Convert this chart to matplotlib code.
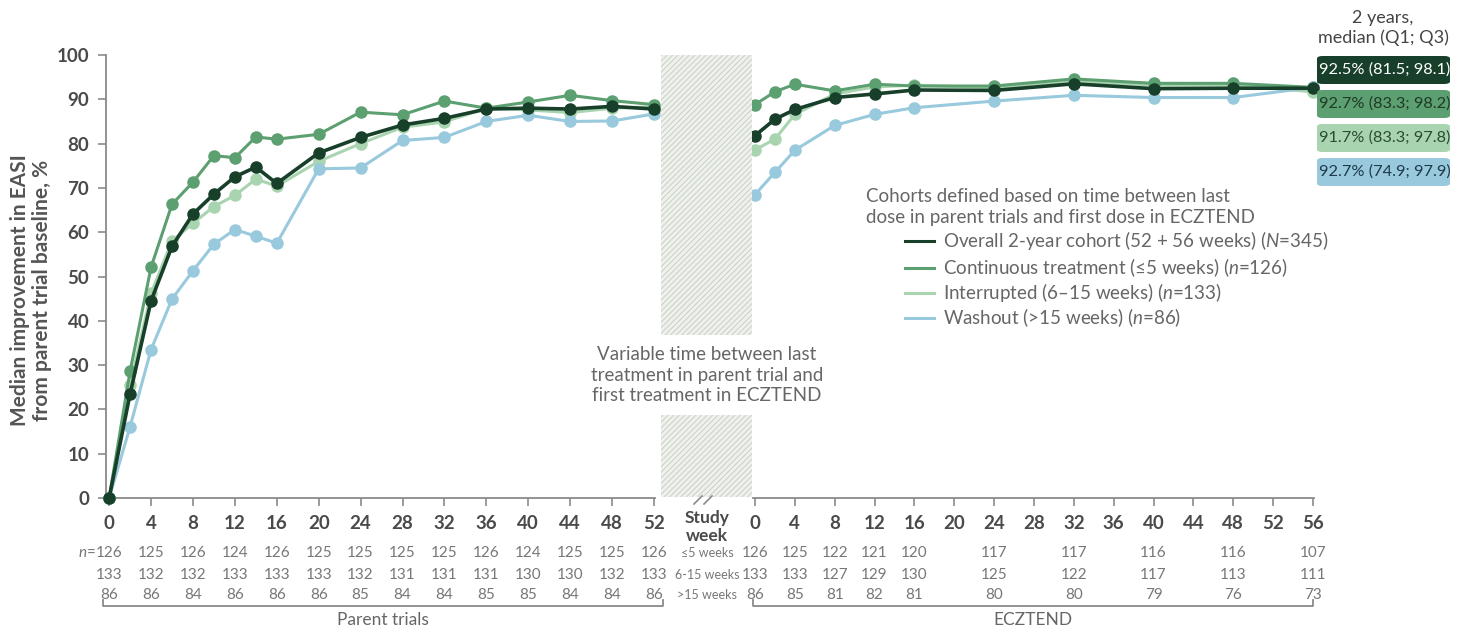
import numpy as np
import matplotlib
matplotlib.use('Agg')
import matplotlib.pyplot as plt
from matplotlib.patches import Rectangle, FancyBboxPatch
from matplotlib.lines import Line2D

plt.rcParams['font.family'] = ['Lato', 'DejaVu Sans']
plt.rcParams['mathtext.fontset'] = 'custom'
plt.rcParams['mathtext.it'] = 'Lato:italic'
plt.rcParams['mathtext.rm'] = 'Lato'
plt.rcParams['hatch.linewidth'] = 0.6

# ---- data ----
weeks_parent = [0, 2, 4, 6, 8, 10, 12, 14, 16, 20, 24, 28, 32, 36, 40, 44, 48, 52]
overall_parent = [0, 23.5, 44.5, 56.8, 64.1, 68.6, 72.5, 74.7, 71.0, 77.9, 81.4, 84.2, 85.7, 87.8, 88.0, 87.8, 88.4, 87.8]
contin_parent = [0, 28.6, 52.1, 66.3, 71.3, 77.3, 76.8, 81.5, 81.0, 82.1, 87.1, 86.5, 89.6, 88.0, 89.4, 90.9, 89.7, 88.8]
interr_parent = [0, 25.5, 46.2, 58.0, 62.0, 65.8, 68.3, 72.0, 70.4, 76.0, 80.0, 83.7, 84.9, 88.0, 87.6, 87.0, 88.0, 88.3]
washout_parent = [0, 16.1, 33.5, 44.9, 51.3, 57.3, 60.6, 59.1, 57.5, 74.3, 74.5, 80.7, 81.4, 85.0, 86.4, 85.0, 85.1, 86.7]

weeks_ext = [0, 2, 4, 8, 12, 16, 24, 32, 40, 48, 56]
overall_ext = [81.8, 85.5, 87.7, 90.4, 91.2, 92.1, 92.0, 93.5, 92.4, 92.5, 92.5]
contin_ext = [88.8, 91.7, 93.4, 91.9, 93.4, 93.0, 93.0, 94.6, 93.6, 93.6, 92.7]
interr_ext = [78.6, 81.0, 86.6, 91.2, 92.8, 93.2, 92.6, 94.0, 93.2, 93.2, 91.7]
washout_ext = [68.5, 73.5, 78.5, 84.1, 86.6, 88.1, 89.6, 90.9, 90.4, 90.4, 92.7]

ticks_parent = list(range(0, 53, 4))
ticks_ext = list(range(0, 57, 4))

n_cont_parent = [126, 125, 126, 124, 126, 125, 125, 125, 125, 126, 124, 125, 125, 126]
n_int_parent = [133, 132, 132, 133, 133, 133, 132, 131, 131, 131, 130, 130, 132, 133]
n_wash_parent = [86, 86, 84, 86, 86, 86, 85, 84, 84, 85, 85, 84, 84, 86]

n_weeks_ext = [0, 4, 8, 12, 16, 24, 32, 40, 48, 56]
n_cont_ext = [126, 125, 122, 121, 120, 117, 117, 116, 116, 107]
n_int_ext = [133, 133, 127, 129, 130, 125, 122, 117, 113, 111]
n_wash_ext = [86, 85, 81, 82, 81, 80, 80, 79, 76, 73]

row_labels = ['≤5 weeks', '6-15 weeks', '>15 weeks']

labels = ['Overall 2-year cohort (52 + 56 weeks) ($\\mathit{N}$=345)',
          'Continuous treatment (≤5 weeks) ($\\mathit{n}$=126)',
          'Interrupted (6\u201315 weeks) ($\\mathit{n}$=133)',
          'Washout (>15 weeks) ($\\mathit{n}$=86)']
summary = ['92.5% (81.5; 98.1)', '92.7% (83.3; 98.2)', '91.7% (83.3; 97.8)', '92.7% (74.9; 97.9)']

colors = ['#173f2a', '#5c9f70', '#a9d4b0', '#98c9dc']
text_cols = ['white', '#1f3a28', '#2c4a34', '#1f3a4a']
zorders = [5, 3, 2, 4]

W, H = 1459, 631
fig = plt.figure(figsize=(W / 100, H / 100), dpi=100)

def px_rect(x0, x1, ytop, ybot):
    return [x0 / W, 1 - ybot / H, (x1 - x0) / W, (ybot - ytop) / H]

ax1 = fig.add_axes(px_rect(106, 655, 55, 498))
ax2 = fig.add_axes(px_rect(753, 1314, 55, 498))
ax1.set_xlim(-0.3, 52.1)
ax2.set_xlim(-0.2, 56.1)

gray = '#8a8a8a'
tick_col = '#4a4a4a'
for ax in (ax1, ax2):
    ax.set_ylim(0, 100)
    for s in ('top', 'right'):
        ax.spines[s].set_visible(False)
    ax.spines['bottom'].set_color(gray)
    ax.spines['left'].set_color(gray)
    ax.spines['bottom'].set_linewidth(1.3)
    ax.spines['left'].set_linewidth(1.3)
    ax.tick_params(axis='both', colors=gray, length=6, width=1.2, labelcolor=tick_col,
                   labelsize=13.5, pad=6)
    ax.patch.set_alpha(0)

ax1.set_yticks(range(0, 101, 10))
ax1.set_xticks(ticks_parent)
ax2.set_xticks(ticks_ext)
ax2.spines['left'].set_visible(False)
ax2.tick_params(axis='y', left=False, labelleft=False)
for ax in (ax1, ax2):
    for lab in ax.get_xticklabels() + ax.get_yticklabels():
        lab.set_fontweight('bold')

fig.text(31 / W, 1 - 290 / H, 'Median improvement in EASI\nfrom parent trial baseline, %',
         rotation=90, ha='center', va='center', fontsize=15, fontweight='bold',
         color='#555555', linespacing=1.1)

series_p = [overall_parent, contin_parent, interr_parent, washout_parent]
series_e = [overall_ext, contin_ext, interr_ext, washout_ext]
for i in range(4):
    lw = 2.6 if i == 0 else 2.2
    ax1.plot(weeks_parent, series_p[i], color=colors[i], lw=lw, marker='o', ms=8,
             zorder=zorders[i], clip_on=False)
    ax2.plot(weeks_ext, series_e[i], color=colors[i], lw=lw, marker='o', ms=8,
             zorder=zorders[i], clip_on=False)

# hatched gap region
for (yt, yb) in [(55, 335), (415, 497)]:
    fig.add_artist(Rectangle((661 / W, 1 - yb / H), (752 - 661) / W, (yb - yt) / H,
                             transform=fig.transFigure, facecolor='#eef1ec',
                             edgecolor='#c3cbbf', hatch='//////', lw=0))
fig.text(707 / W, 1 - 375 / H, 'Variable time between last\ntreatment in parent trial and\nfirst treatment in ECZTEND',
         ha='center', va='center', fontsize=13.5, color='#666666', linespacing=1.25)

# axis break marks
for dx in (-6, 4):
    fig.add_artist(Line2D([(700 + dx) / W, (708 + dx) / W], [1 - 504 / H, 1 - 496 / H],
                          transform=fig.transFigure, color=gray, lw=1.2))
fig.text(707 / W, 1 - 527 / H, 'Study\nweek', ha='center', va='center', fontsize=12.5,
         fontweight='bold', color=tick_col, linespacing=1.1)

# n table
row_y = [553, 575, 595]
n_par = [n_cont_parent, n_int_parent, n_wash_parent]
n_ext = [n_cont_ext, n_int_ext, n_wash_ext]
tcol = '#777777'
for r in range(3):
    yf = 1 - row_y[r] / H
    for wk, v in zip(ticks_parent, n_par[r]):
        xf = fig.transFigure.inverted().transform(ax1.transData.transform((wk, 0)))[0]
        fig.text(xf, yf, str(v), ha='center', va='center', fontsize=11, color=tcol)
    for wk, v in zip(n_weeks_ext, n_ext[r]):
        xf = fig.transFigure.inverted().transform(ax2.transData.transform((wk, 0)))[0]
        fig.text(xf, yf, str(v), ha='center', va='center', fontsize=11, color=tcol)
    fig.text(707 / W, yf, row_labels[r], ha='center', va='center', fontsize=9, color=tcol)
fig.text(96 / W, 1 - row_y[0] / H, '$\\mathit{n}$=', ha='right', va='center', fontsize=11, color=tcol)

# brackets
for (x0, x1, lab) in [(103, 663, 'Parent trials'), (753, 1313, 'ECZTEND')]:
    yb = 1 - 606 / H
    fig.add_artist(Line2D([x0 / W, x0 / W, x1 / W, x1 / W], [1 - 600 / H, yb, yb, 1 - 600 / H],
                          transform=fig.transFigure, color=gray, lw=1.3))
    fig.text((x0 + x1) / 2 / W, 1 - 620 / H, lab, ha='center', va='center', fontsize=12.5,
             color='#666666')

# legend
fig.text(866 / W, 1 - 207 / H, 'Cohorts defined based on time between last\ndose in parent trials and first dose in ECZTEND',
         ha='left', va='center', fontsize=13.5, color='#666666', linespacing=1.3)
leg_y = [241, 268, 293, 318]
for i in range(4):
    yf = 1 - leg_y[i] / H
    fig.add_artist(Line2D([905 / W, 934 / W], [yf, yf], transform=fig.transFigure,
                          color=colors[i], lw=2.2))
    fig.text(943 / W, yf, labels[i], ha='left', va='center', fontsize=13.5, color='#666666')

# summary boxes
fig.text(1383 / W, 1 - 28 / H, '2 years,\nmedian (Q1; Q3)', ha='center', va='center',
         fontsize=13, color='#444444', linespacing=1.25)
box_y = [70, 104, 138, 172]
for i in range(4):
    yc = box_y[i]
    fig.add_artist(FancyBboxPatch((1317 / W, 1 - (yc + 14) / H), (1450 - 1317) / W, 28 / H,
                                  boxstyle='round,pad=0,rounding_size=0.004',
                                  transform=fig.transFigure, facecolor=colors[i], edgecolor='none'))
    fig.text(1385 / W, 1 - yc / H, summary[i], ha='center', va='center', fontsize=11.8,
             color=text_cols[i])

fig.savefig('out.png', dpi=100)
